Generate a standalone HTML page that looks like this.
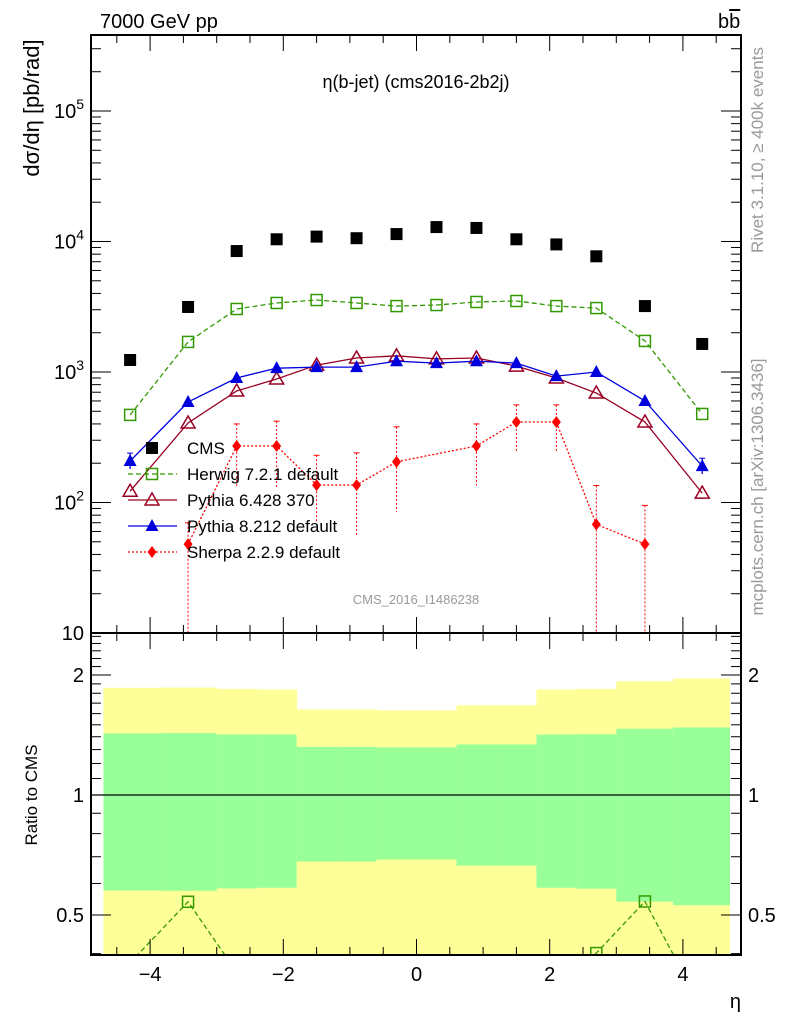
<!DOCTYPE html>
<html><head><meta charset="utf-8"><style>
html,body{margin:0;background:#fff;width:786px;height:1024px;overflow:hidden}
svg{display:block;font-family:"Liberation Sans",sans-serif}
</style></head><body>
<svg id="c" width="786" height="1024" viewBox="0 0 786 1024" xmlns="http://www.w3.org/2000/svg">
<defs>
<clipPath id="clipMain"><rect x="91" y="35" width="650" height="598"/></clipPath>
<clipPath id="clipRatio"><rect x="91" y="633" width="650" height="322"/></clipPath>
</defs>
<g id="bands" clip-path="url(#clipRatio)"></g>
<g id="marks"></g>
<g id="axes"></g>
<text x="100" y="28" font-size="20">7000 GeV pp</text>
<text x="718" y="28" font-size="20">b<tspan text-decoration="overline">b</tspan></text>
<text x="416" y="88" font-size="18" text-anchor="middle">η(b-jet) (cms2016-2b2j)</text>
<text x="416" y="604" font-size="13" fill="#999" text-anchor="middle">CMS_2016_I1486238</text>
<text transform="translate(39,108) rotate(-90)" font-size="22" text-anchor="middle">dσ/dη [pb/rad]</text>
<text transform="translate(37,795) rotate(-90)" font-size="17" text-anchor="middle">Ratio to CMS</text>
<text x="741" y="1008" font-size="20" text-anchor="end">η</text>
<text transform="translate(763,150) rotate(-90)" font-size="17" fill="#999" text-anchor="middle">Rivet 3.1.10, ≥ 400k events</text>
<text transform="translate(763,487) rotate(-90)" font-size="17" fill="#999" text-anchor="middle">mcplots.cern.ch [arXiv:1306.3436]</text>
</svg>
<script>
const etaCenters=[-4.3,-3.43,-2.7,-2.1,-1.5,-0.9,-0.3,0.3,0.9,1.5,2.1,2.7,3.43,4.29];
const binEdges=[-4.7,-3.85,-3.0,-2.4,-1.8,-1.2,-0.6,0,0.6,1.2,1.8,2.4,3.0,3.85,4.7];
const cmsVals=[1236,3150,8450,10400,10900,10600,11400,12900,12700,10400,9500,7700,3200,1640];
const herwigVals=[469,1700,3040,3380,3560,3380,3200,3260,3440,3500,3200,3090,1730,477];
const py6Vals=[122,407,715,884,1130,1280,1330,1260,1280,1110,900,690,414,118];
const py8Vals=[208,589,900,1070,1090,1090,1210,1170,1210,1170,930,1000,600,190];
const sherpaVals=[null,48,271,271,136,136,205,null,271,414,414,68,48,null];
const sherpaUp=[null,70,400,420,230,240,380,null,400,560,560,135,95,null];
const sherpaDn=[null,1,130,130,70,55,85,null,135,240,240,1,1,null];
const yellowTop=[1.857,1.86,1.846,1.84,1.64,1.64,1.63,1.63,1.68,1.68,1.84,1.846,1.93,1.96];
const greenTop=[1.427,1.43,1.418,1.418,1.32,1.32,1.316,1.316,1.339,1.339,1.418,1.42,1.466,1.477];
const greenBot=[0.576,0.575,0.583,0.585,0.681,0.681,0.689,0.689,0.665,0.665,0.585,0.582,0.540,0.529];
const xTicks=[-4,-2,0,2,4];
const yTickExps=[1,2,3,4,5];
const ratioTicks=[0.5,1,2];

const NS="http://www.w3.org/2000/svg";
const L=91,R=741,T=35,MB=633,RB=955;
const X=v=>416.5+v*66.6;
const Y=v=>633-(Math.log10(v)-1)*130.5;
const RY=v=>795-Math.log2(v)*120;
function mk(tag,attrs,parent){const e=document.createElementNS(NS,tag);for(const k in attrs)e.setAttribute(k,attrs[k]);parent.appendChild(e);return e;}
const bands=document.getElementById('bands'),marks=document.getElementById('marks'),axes=document.getElementById('axes');

for(let i=0;i<yellowTop.length;i++){
 const x0=X(binEdges[i]),x1=X(binEdges[i+1]);
 let r=mk('rect',{x:x0,y:RY(yellowTop[i]),width:x1-x0+0.5,height:RB-RY(yellowTop[i]),fill:'#ffff99'},bands);
 
 
 r=mk('rect',{x:x0,y:RY(greenTop[i]),width:x1-x0+0.5,height:RY(greenBot[i])-RY(greenTop[i]),fill:'#99ff99'},bands);
 
 
}
let l1=mk('line',{x1:L,x2:R,y1:RY(1),y2:RY(1),stroke:'#000','stroke-width':1.2},bands);



const gMain=mk('g',{'clip-path':'url(#clipMain)'},marks);
const gRat=mk('g',{'clip-path':'url(#clipRatio)'},marks);

function marker(g,type,x,y,color){
 let e;
 if(type==='sq') e=mk('rect',{x:x-6,y:y-6,width:12,height:12,fill:'#000'},g);
 else if(type==='osq') e=mk('rect',{x:x-5.5,y:y-5.5,width:11,height:11,fill:'none',stroke:color,'stroke-width':1.5},g);
 else if(type==='otri') e=mk('polygon',{points:`${x},${y-7} ${x-7},${y+5} ${x+7},${y+5}`,fill:'none',stroke:color,'stroke-width':1.5},g);
 else if(type==='tri') e=mk('polygon',{points:`${x},${y-7} ${x-6.5},${y+5} ${x+6.5},${y+5}`,fill:color},g);
 else e=mk('polygon',{points:`${x},${y-6} ${x-4.5},${y} ${x},${y+6} ${x+4.5},${y}`,fill:color},g);
 return e;
}
function series(vals,name,color,dash,type,yfn,g){
 const pts=[];vals.forEach((v,i)=>{if(v!=null&&v>0)pts.push([X(etaCenters[i]),yfn(v)]);});
 const p=mk('polyline',{points:pts.map(q=>q.join(',')).join(' '),fill:'none',stroke:color,'stroke-width':1.3,'stroke-dasharray':dash},g);
 
 
 pts.forEach(q=>{const m=marker(g,type,q[0],q[1],color);
  
  });
}
series(herwigVals,'herwig','#339900','5,3','osq',Y,gMain);
series(py6Vals,'pythia6','#990022','','otri',Y,gMain);
series(py8Vals,'pythia8','#0000dd','','tri',Y,gMain);
[0,13].forEach(i=>{const x=X(etaCenters[i]),v=py8Vals[i];
 mk('line',{x1:x,x2:x,y1:Y(v*1.15),y2:Y(v/1.15),stroke:'#0000dd','stroke-width':1.3},gMain);
 mk('line',{x1:x-3,x2:x+3,y1:Y(v*1.15),y2:Y(v*1.15),stroke:'#0000dd'},gMain);});
sherpaVals.forEach((v,i)=>{if(v==null)return;const x=X(etaCenters[i]);
 const e=mk('line',{x1:x,x2:x,y1:Y(sherpaUp[i]),y2:Y(sherpaDn[i]),stroke:'#ff0000','stroke-width':1,'stroke-dasharray':'2,2'},gMain);
 
 
 mk('line',{x1:x-3,x2:x+3,y1:Y(sherpaUp[i]),y2:Y(sherpaUp[i]),stroke:'#ff0000'},gMain);});
series(sherpaVals,'sherpa','#ff0000','2,2','dia',Y,gMain);
cmsVals.forEach((v,i)=>{const m=marker(gMain,'sq',X(etaCenters[i]),Y(v),'#000');
 
 });
const rat=a=>a.map((v,i)=>v==null?null:v/cmsVals[i]);
series(rat(herwigVals),'herwig-ratio','#339900','5,3','osq',RY,gRat);
series(rat(py6Vals),'pythia6-ratio','#990022','','otri',RY,gRat);
series(rat(py8Vals),'pythia8-ratio','#0000dd','','tri',RY,gRat);
series(rat(sherpaVals),'sherpa-ratio','#ff0000','2,2','dia',RY,gRat);

const leg=[['CMS','#000','','sq',false],['Herwig 7.2.1 default','#339900','5,3','osq',true],['Pythia 6.428 370','#990022','','otri',true],['Pythia 8.212 default','#0000dd','','tri',true],['Sherpa 2.2.9 default','#ff0000','2,2','dia',true]];
leg.forEach((e,i)=>{const y=448+i*26;
 const g=mk('g',{},marks);
 
 
 if(e[4])mk('line',{x1:128,x2:177,y1:y,y2:y,stroke:e[1],'stroke-width':1.3,'stroke-dasharray':e[2]},g);
 marker(g,e[3],152,y,e[1]);
 const t=mk('text',{x:187,y:y+6,'font-size':17},g);t.textContent=e[0];});

[[T,MB],[MB,RB]].forEach((f,k)=>{const r=mk('rect',{x:L,y:f[0],width:R-L,height:f[1]-f[0],fill:'none',stroke:'#000','stroke-width':2},axes);
 
 });
for(let v=-4.5;v<=4.51;v+=0.5){const x=X(v);const maj=Math.abs(v%2)<1e-6;const len=maj?16:8;
 [T,MB].forEach(y0=>mk('line',{x1:x,x2:x,y1:y0,y2:y0+len,stroke:'#000'},axes));
 [MB,RB].forEach(y0=>mk('line',{x1:x,x2:x,y1:y0,y2:y0-len,stroke:'#000'},axes));}
xTicks.forEach(v=>{const t=mk('text',{x:X(v),y:981,'font-size':20,'text-anchor':'middle'},axes);t.textContent=(v<0?'−':'')+Math.abs(v);
 
 });
for(let e=1;e<=5;e++)for(let m=1;m<10;m++){const v=m*Math.pow(10,e);const y=Y(v);if(y<T)continue;const len=m==1?20:10;
 mk('line',{x1:L,x2:L+len,y1:y,y2:y,stroke:'#000'},axes);mk('line',{x1:R,x2:R-len,y1:y,y2:y,stroke:'#000'},axes);}
yTickExps.forEach(e=>{const t=mk('text',{x:84,y:Y(Math.pow(10,e))+7,'font-size':20,'text-anchor':'end'},axes);
 
 
 if(e==1){t.textContent='10';}else{t.textContent='10';const s=mk('tspan',{dy:-9,'font-size':14},t);s.textContent=e;}});
for(let v=0.4;v<=2.55;v+=0.1){const y=RY(v);if(y<MB||y>RB)continue;const maj=[0.5,1,2].some(q=>Math.abs(q-v)<1e-6);const len=maj?20:10;
 mk('line',{x1:L,x2:L+len,y1:y,y2:y,stroke:'#000'},axes);mk('line',{x1:R,x2:R-len,y1:y,y2:y,stroke:'#000'},axes);}
ratioTicks.forEach(v=>{[[84,'end'],[748,'start']].forEach(p=>{const t=mk('text',{x:p[0],y:RY(v)+7,'font-size':20,'text-anchor':p[1]},axes);t.textContent=v;
 
 });});
</script>
</body></html>
